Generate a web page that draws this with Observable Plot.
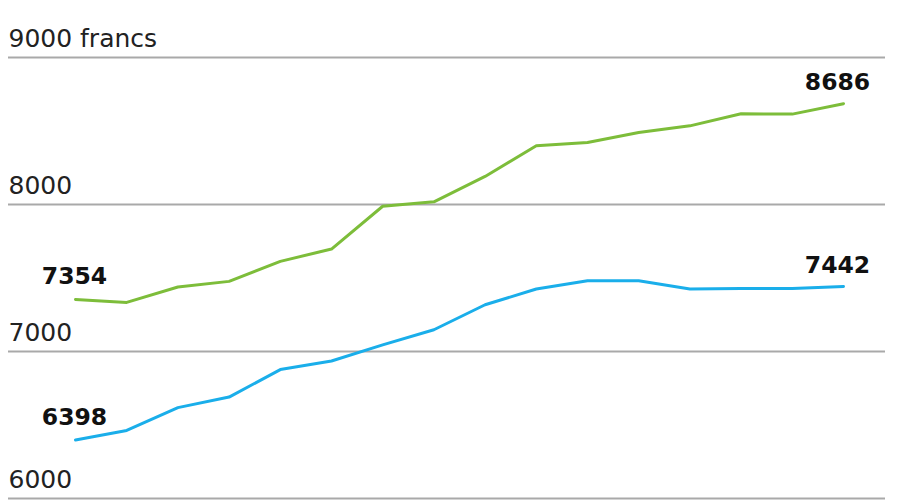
<!DOCTYPE html>
<html><head><meta charset="utf-8">
<script src="https://cdn.jsdelivr.net/npm/d3@7"></script>
<script src="https://cdn.jsdelivr.net/npm/@observablehq/plot@0.6"></script>
<style>html,body{margin:0;padding:0;background:#fff;}</style>
</head><body><div id="chart"></div>
<script>
const periods = [1, 2, 3, 4, 5, 6, 7, 8, 9, 10, 11, 12, 13, 14, 15, 16];
const greenValues = [7354, 7334, 7439, 7477, 7613, 7697, 7988, 8018, 8191, 8400, 8422, 8490, 8535, 8617, 8615, 8686];
const blueValues = [6398, 6463, 6618, 6690, 6877, 6935, 7045, 7148, 7318, 7425, 7482, 7482, 7425, 7429, 7429, 7442];
const yTicks = [6000, 7000, 8000, 9000];
const yTickLabels = ["6000", "7000", "8000", "9000 francs"];
const seriesNames = ["serie1", "serie2"];
const seriesColors = ["#7dbd3a", "#1aaeea"];

const rows = [
  ...periods.map((p, i) => ({p, v: greenValues[i], s: seriesNames[0]})),
  ...periods.map((p, i) => ({p, v: blueValues[i], s: seriesNames[1]}))
];
const last = periods.length - 1;
const startLabels = [
  {p: periods[0], v: greenValues[0]},
  {p: periods[0], v: blueValues[0]}
];
const endLabels = [
  {p: periods[last], v: greenValues[last]},
  {p: periods[last], v: blueValues[last]}
];

const chart = Plot.plot({
  width: 920,
  height: 500,
  marginLeft: 8,
  marginRight: 35,
  marginTop: 0,
  marginBottom: 0,
  x: {domain: [periods[0], periods[last]], range: [75, 843], axis: null},
  y: {domain: [6000, 9000], range: [498, 57], axis: null},
  color: {type: "ordinal", domain: seriesNames, range: seriesColors},
  style: {fontFamily: "'DejaVu Sans', sans-serif", background: "#fff"},
  marks: [
    Plot.ruleY(yTicks, {stroke: "#a9a9a9", strokeWidth: 2}),
    Plot.text(yTicks, {
      y: d => d,
      frameAnchor: "left",
      text: (d, i) => yTickLabels[i],
      textAnchor: "start",
      lineAnchor: "bottom",
      dy: -11,
      fontSize: 25,
      fill: "#222"
    }),
    Plot.line(rows, {x: "p", y: "v", z: "s", stroke: "s", strokeWidth: 3}),
    Plot.text(startLabels, {
      x: "p", y: "v", text: d => String(d.v),
      lineAnchor: "bottom", dy: -15, dx: -1,
      fontSize: 23.5, fontWeight: "bold", fill: "#111"
    }),
    Plot.text(endLabels, {
      x: "p", y: "v", text: d => String(d.v),
      lineAnchor: "bottom", dy: -14, dx: -6,
      fontSize: 23.5, fontWeight: "bold", fill: "#111"
    })
  ]
});
document.getElementById("chart").appendChild(chart);
</script>
</body></html>
